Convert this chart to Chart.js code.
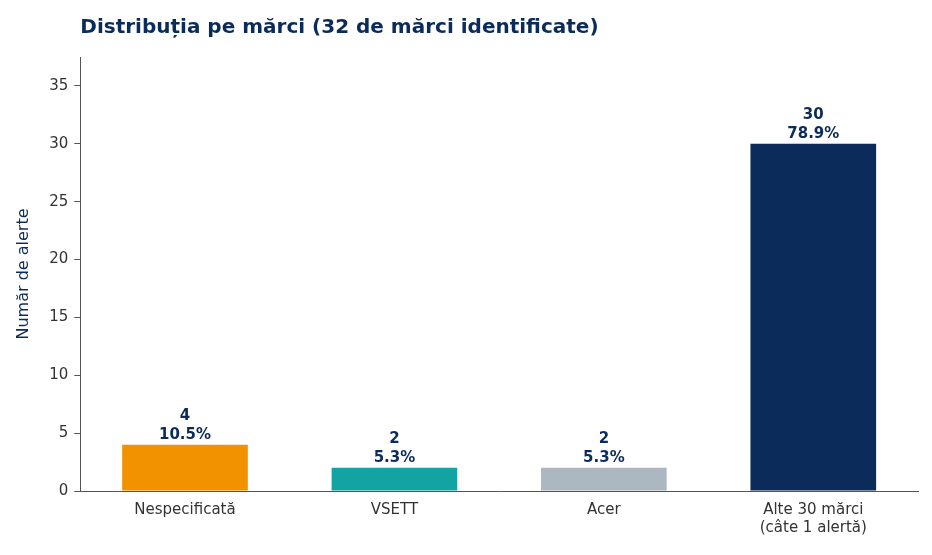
<!DOCTYPE html>
<html><head><meta charset="utf-8">
<script src="https://cdn.jsdelivr.net/npm/chart.js@4"></script>
<style>
html,body{margin:0;padding:0;background:#fff;}
#wrap{width:932px;height:555px;position:relative;}
</style></head>
<body><div id="wrap"><canvas id="c"></canvas></div>
<script>
const categories = [['Nespecificată'], ['VSETT'], ['Acer'], ['Alte 30 mărci', '(câte 1 alertă)']];
const counts = [4, 2, 2, 30];
const percents = ['10.5%', '5.3%', '5.3%', '78.9%'];
const colors = ['#F39200', '#14A3A3', '#ADB7C1', '#0B2B5A'];
const NAVY = '#0B2B5A';
const TITLE = 'Distribuția pe mărci (32 de mărci identificate)';

const barLabels = {
  id: 'barLabels',
  afterDatasetsDraw(chart) {
    const ctx = chart.ctx;
    const meta = chart.getDatasetMeta(0);
    ctx.save();
    ctx.fillStyle = NAVY;
    ctx.font = 'bold 15px "DejaVu Sans"';
    ctx.textAlign = 'center';
    ctx.textBaseline = 'bottom';
    meta.data.forEach((bar, i) => {
      ctx.fillText(String(counts[i]), bar.x, bar.y - 21);
      ctx.fillText(percents[i], bar.x, bar.y - 2);
    });
    ctx.font = 'bold 20px "DejaVu Sans"';
    ctx.textAlign = 'left';
    ctx.textBaseline = 'alphabetic';
    ctx.fillText(TITLE, chart.chartArea.left, 33);
    ctx.restore();
  }
};

new Chart(document.getElementById('c'), {
  type: 'bar',
  data: {
    labels: categories,
    datasets: [{ data: counts, backgroundColor: colors, barPercentage: 0.6, categoryPercentage: 1 }]
  },
  options: {
    responsive: true,
    maintainAspectRatio: false,
    animation: false,
    layout: { padding: { left: 14, right: 14, top: 57, bottom: 14 } },
    plugins: { legend: { display: false }, tooltip: { enabled: false } },
    scales: {
      x: {
        grid: { display: false, tickLength: 6, color: '#555' },
        border: { color: '#555' },
        ticks: { color: '#333', font: { family: 'DejaVu Sans', size: 15 }, padding: 4 }
      },
      y: {
        min: 0, max: 37.5,
        afterBuildTicks: s => { s.ticks = [0,5,10,15,20,25,30,35].map(v => ({ value: v })); },
        grid: { display: true, drawOnChartArea: false, tickLength: 6, color: '#555' },
        border: { color: '#555' },
        ticks: { color: '#333', font: { family: 'DejaVu Sans', size: 15 }, padding: 6 },
        title: { display: true, text: 'Număr de alerte', color: NAVY, font: { family: 'DejaVu Sans', size: 16 }, padding: { top: 0, bottom: 10 } }
      }
    }
  },
  plugins: [barLabels]
});
</script></body></html>
